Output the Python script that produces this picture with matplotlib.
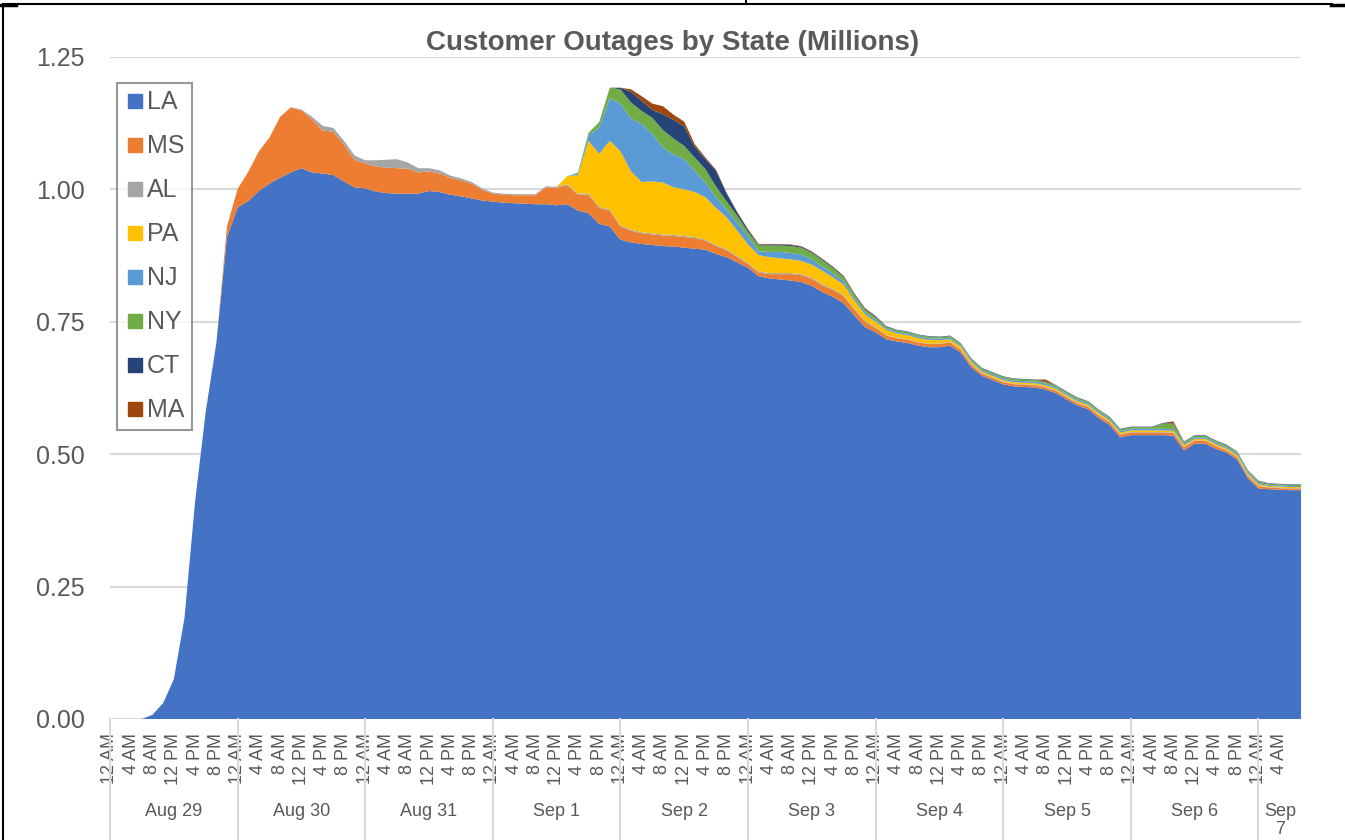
import numpy as np
import matplotlib.pyplot as plt
import matplotlib.transforms as mtransforms
from matplotlib.lines import Line2D

plt.rcParams['font.family'] = ['Liberation Sans', 'DejaVu Sans']

# hours since Aug 29 12 AM, one reading every 2 hours
hours = np.arange(0, 225, 2)

states = ['LA', 'MS', 'AL', 'PA', 'NJ', 'NY', 'CT', 'MA']
colors = ['#4472C4', '#ED7D31', '#A5A5A5', '#FFC000', '#5B9BD5', '#70AD47', '#264478', '#9E480E']

la = [0, 0, 0, 0, 0.008, 0.03, 0.075, 0.19, 0.41, 0.58, 0.71, 0.91, 0.966,
      0.978, 0.997, 1.011, 1.022, 1.032, 1.04, 1.032, 1.03, 1.027, 1.015, 1.004, 1.002,
      0.996, 0.993, 0.992, 0.992, 0.992, 0.997, 0.995, 0.99, 0.987, 0.983, 0.979, 0.977,
      0.975, 0.974, 0.973, 0.972, 0.972, 0.97, 0.972, 0.96, 0.955, 0.935, 0.93, 0.905,
      0.9, 0.897, 0.895, 0.893, 0.892, 0.89, 0.888, 0.886, 0.878, 0.872, 0.862, 0.852,
      0.836, 0.832, 0.83, 0.828, 0.825, 0.818, 0.806, 0.797, 0.785, 0.762, 0.74, 0.73,
      0.717, 0.713, 0.71, 0.705, 0.702, 0.702, 0.705, 0.692, 0.664, 0.648, 0.64, 0.632,
      0.628, 0.627, 0.626, 0.622, 0.615, 0.603, 0.592, 0.585, 0.568, 0.555, 0.532, 0.536,
      0.536, 0.536, 0.536, 0.535, 0.507, 0.52, 0.52, 0.51, 0.503, 0.49, 0.455, 0.435,
      0.434, 0.433, 0.432, 0.432]

ms = [0, 0, 0, 0, 0, 0, 0, 0, 0, 0, 0, 0.02, 0.035,
      0.055, 0.075, 0.087, 0.115, 0.123, 0.109, 0.1, 0.081, 0.082, 0.07, 0.051, 0.047,
      0.047, 0.048, 0.048, 0.047, 0.04, 0.037, 0.035, 0.032, 0.03, 0.028, 0.02, 0.015,
      0.015, 0.015, 0.016, 0.017, 0.032, 0.033, 0.036, 0.03, 0.035, 0.03, 0.03, 0.025,
      0.022, 0.02, 0.02, 0.02, 0.02, 0.02, 0.02, 0.017, 0.015, 0.013, 0.01, 0.007,
      0.007, 0.008, 0.01, 0.012, 0.013, 0.013, 0.013, 0.013, 0.013, 0.011, 0.01, 0.008,
      0.007, 0.006, 0.006, 0.006, 0.006, 0.006, 0.006, 0.005, 0.005, 0.004, 0.004, 0.004,
      0.004, 0.004, 0.004, 0.004, 0.004, 0.004, 0.004, 0.004, 0.005, 0.005, 0.005, 0.005,
      0.005, 0.005, 0.005, 0.005, 0.006, 0.005, 0.005, 0.005, 0.004, 0.004, 0.004, 0.004,
      0.003, 0.003, 0.003, 0.003]

al = [0, 0, 0, 0, 0, 0, 0, 0, 0, 0, 0, 0, 0,
      0, 0, 0, 0, 0, 0.002, 0.005, 0.009, 0.007, 0.007, 0.009, 0.006,
      0.012, 0.015, 0.017, 0.012, 0.008, 0.006, 0.006, 0.004, 0.004, 0.003, 0.003, 0.002,
      0.002, 0.002, 0.002, 0.002, 0.002, 0.002, 0.002, 0.002, 0.002, 0.002, 0.002, 0.002,
      0.002, 0.002, 0.002, 0.002, 0.002, 0.002, 0.002, 0.002, 0.002, 0.002, 0.002, 0.002,
      0.002, 0.002, 0.002, 0.002, 0.002, 0.002, 0.002, 0.002, 0.002, 0.002, 0.002, 0.002,
      0.001, 0.001, 0.001, 0.001, 0.001, 0.001, 0.001, 0.001, 0.001, 0.001, 0.001, 0.001,
      0.001, 0.001, 0.001, 0.001, 0.001, 0.001, 0.001, 0.001, 0.001, 0.001, 0.001, 0.001,
      0.001, 0.001, 0.001, 0.001, 0.001, 0.001, 0.001, 0.001, 0.001, 0.001, 0.001, 0.001,
      0.001, 0.001, 0.001, 0.001]

pa = [0, 0, 0, 0, 0, 0, 0, 0, 0, 0, 0, 0, 0,
      0, 0, 0, 0, 0, 0, 0, 0, 0, 0, 0, 0,
      0, 0, 0, 0, 0, 0, 0, 0, 0, 0, 0, 0,
      0, 0, 0, 0, 0, 0, 0.015, 0.035, 0.1, 0.1, 0.13, 0.14,
      0.11, 0.095, 0.098, 0.098, 0.09, 0.088, 0.085, 0.08, 0.07, 0.06, 0.048, 0.035,
      0.031, 0.03, 0.028, 0.026, 0.025, 0.025, 0.025, 0.022, 0.02, 0.015, 0.012, 0.01,
      0.01, 0.008, 0.008, 0.007, 0.007, 0.006, 0.005, 0.005, 0.004, 0.003, 0.003, 0.003,
      0.003, 0.003, 0.003, 0.003, 0.003, 0.003, 0.003, 0.003, 0.003, 0.003, 0.003, 0.003,
      0.003, 0.003, 0.003, 0.003, 0.003, 0.003, 0.003, 0.003, 0.003, 0.003, 0.003, 0.003,
      0.002, 0.002, 0.002, 0.002]

nj = [0, 0, 0, 0, 0, 0, 0, 0, 0, 0, 0, 0, 0,
      0, 0, 0, 0, 0, 0, 0, 0, 0, 0, 0, 0,
      0, 0, 0, 0, 0, 0, 0, 0, 0, 0, 0, 0,
      0, 0, 0, 0, 0, 0, 0, 0.003, 0.01, 0.05, 0.08, 0.09,
      0.1, 0.11, 0.09, 0.066, 0.062, 0.057, 0.04, 0.028, 0.02, 0.015, 0.015, 0.015,
      0.007, 0.01, 0.012, 0.012, 0.012, 0.01, 0.008, 0.007, 0.006, 0.005, 0.004, 0.004,
      0.003, 0.003, 0.003, 0.003, 0.003, 0.003, 0.003, 0.003, 0.003, 0.003, 0.003, 0.003,
      0.003, 0.003, 0.003, 0.003, 0.003, 0.003, 0.003, 0.003, 0.003, 0.003, 0.003, 0.003,
      0.003, 0.003, 0.003, 0.003, 0.003, 0.003, 0.003, 0.003, 0.003, 0.003, 0.003, 0.003,
      0.002, 0.002, 0.002, 0.002]

ny = [0, 0, 0, 0, 0, 0, 0, 0, 0, 0, 0, 0, 0,
      0, 0, 0, 0, 0, 0, 0, 0, 0, 0, 0, 0,
      0, 0, 0, 0, 0, 0, 0, 0, 0, 0, 0, 0,
      0, 0, 0, 0, 0, 0, 0, 0.002, 0.005, 0.01, 0.02, 0.027,
      0.03, 0.024, 0.03, 0.033, 0.03, 0.025, 0.025, 0.025, 0.02, 0.015, 0.013, 0.009,
      0.011, 0.012, 0.012, 0.013, 0.013, 0.012, 0.012, 0.01, 0.008, 0.006, 0.005, 0.004,
      0.003, 0.003, 0.003, 0.003, 0.003, 0.003, 0.003, 0.003, 0.003, 0.003, 0.003, 0.003,
      0.003, 0.003, 0.003, 0.003, 0.003, 0.003, 0.003, 0.003, 0.003, 0.003, 0.003, 0.003,
      0.003, 0.003, 0.01, 0.01, 0.003, 0.003, 0.003, 0.003, 0.003, 0.003, 0.003, 0.003,
      0.002, 0.002, 0.002, 0.002]

ct = [0, 0, 0, 0, 0, 0, 0, 0, 0, 0, 0, 0, 0,
      0, 0, 0, 0, 0, 0, 0, 0, 0, 0, 0, 0,
      0, 0, 0, 0, 0, 0, 0, 0, 0, 0, 0, 0,
      0, 0, 0, 0, 0, 0, 0, 0, 0, 0, 0, 0.003,
      0.02, 0.019, 0.015, 0.03, 0.035, 0.037, 0.02, 0.019, 0.03, 0.015, 0.006, 0.004,
      0.002, 0.002, 0.002, 0.002, 0.002, 0.002, 0.002, 0.002, 0.002, 0.002, 0.002, 0.002,
      0.001, 0.001, 0.001, 0.001, 0.001, 0.001, 0.001, 0.001, 0.001, 0.001, 0.001, 0.001,
      0.001, 0.001, 0.001, 0.001, 0.001, 0.001, 0.001, 0.001, 0.001, 0.001, 0.001, 0.001,
      0.001, 0.001, 0.001, 0.001, 0.001, 0.001, 0.001, 0.001, 0.001, 0.001, 0.001, 0.001,
      0.001, 0.001, 0.001, 0.001]

ma = [0, 0, 0, 0, 0, 0, 0, 0, 0, 0, 0, 0, 0,
      0, 0, 0, 0, 0, 0, 0, 0, 0, 0, 0, 0,
      0, 0, 0, 0, 0, 0, 0, 0, 0, 0, 0, 0,
      0, 0, 0, 0, 0, 0, 0, 0, 0, 0, 0, 0,
      0.005, 0.009, 0.012, 0.015, 0.01, 0.009, 0.005, 0.003, 0.002, 0.001, 0.001, 0.001,
      0.001, 0.001, 0.001, 0.001, 0.001, 0.001, 0.001, 0.001, 0.001, 0.001, 0.001, 0.001,
      0, 0, 0, 0, 0, 0, 0, 0, 0, 0, 0, 0,
      0, 0, 0, 0.004, 0, 0, 0, 0, 0, 0, 0, 0,
      0, 0, 0, 0.004, 0, 0, 0, 0, 0, 0, 0, 0,
      0, 0, 0, 0]

hour_labels = ['12 AM', '4 AM', '8 AM', '12 PM', '4 PM', '8 PM']
day_labels = ['Aug 29', 'Aug 30', 'Aug 31', 'Sep 1', 'Sep 2', 'Sep 3',
              'Sep 4', 'Sep 5', 'Sep 6', 'Sep\n7']

grey = '#595959'
grid_c = '#d9d9d9'

fig = plt.figure(figsize=(13.45, 8.4), dpi=100)
ax = fig.add_axes([110 / 1345, 1 - 719 / 840, 1191 / 1345, 662 / 840])

ax.stackplot(hours, la, ms, al, pa, nj, ny, ct, ma, colors=colors, labels=states,
             linewidth=0, zorder=2)

ax.set_xlim(0, 224)
ax.set_ylim(0, 1.25)
ax.set_yticks(np.arange(0, 1.26, 0.25))
ax.set_yticklabels([f'{v:.2f}' for v in np.arange(0, 1.26, 0.25)])
ax.tick_params(axis='y', length=0, pad=18, labelsize=18, labelcolor=grey)

xt = np.arange(0, 221, 4)
ax.set_xticks(xt)
ax.set_xticklabels([hour_labels[i % 6] for i in range(len(xt))], rotation=90)
ax.tick_params(axis='x', length=0, pad=10, labelsize=13, labelcolor=grey)
ax.set_xticks(np.arange(0, 217, 24), minor=True)
ax.tick_params(axis='x', which='minor', length=0)

ax.grid(True, which='minor', axis='x', color=grid_c, lw=1.5, zorder=0)
ax.grid(True, which='major', axis='y', color=grid_c, lw=1.5, zorder=0)
ax.grid(False, which='major', axis='x')
ax.set_axisbelow(True)
for s in ax.spines.values():
    s.set_visible(False)

# day groups under the hour labels
trans = mtransforms.blended_transform_factory(ax.transData, ax.transAxes)
for d in np.arange(0, 217, 24):
    ax.plot([d, d], [0, -0.2], transform=trans, color=grid_c, lw=1.5, clip_on=False)
for i, lab in enumerate(day_labels):
    xc = 12 + 24 * i if i < 9 else 220
    ax.text(xc, -0.127, lab, transform=trans, ha='center', va='top', fontsize=13,
            color=grey, linespacing=1.1)

fig.text(673 / 1345, 1 - 43 / 840, 'Customer Outages by State (Millions)', ha='center',
         va='center', fontsize=20, fontweight='bold', color=grey)

handles = [Line2D([], [], marker='s', linestyle='', color=c, markersize=10) for c in colors]
leg = ax.legend(handles, states, loc='upper left', bbox_to_anchor=(0.006, 0.961),
                frameon=True, fancybox=False, edgecolor='#7f7f7f', fontsize=18,
                handlelength=0.8, handletextpad=0.1, labelspacing=0.8, borderpad=0.3,
                borderaxespad=0)
leg.get_frame().set_linewidth(1.5)
for t in leg.get_texts():
    t.set_color(grey)

# border of the surrounding table cell
fig.add_artist(Line2D([3 / 1345, 1332 / 1345], [1 - 4 / 840] * 2, color='black', lw=1.5,
                      transform=fig.transFigure))
fig.add_artist(Line2D([3 / 1345] * 2, [0, 1 - 4 / 840], color='black', lw=1.5,
                      transform=fig.transFigure))
fig.add_artist(Line2D([746 / 1345] * 2, [1 - 4 / 840, 1], color='black', lw=1.5,
                      transform=fig.transFigure))
fig.add_artist(Line2D([0, 16 / 1345], [1 - 5 / 840] * 2, color='black', lw=2.5,
                      transform=fig.transFigure))
fig.add_artist(Line2D([1331 / 1345, 1], [1 - 5 / 840] * 2, color='black', lw=2.5,
                      transform=fig.transFigure))

fig.savefig('out.png', dpi=100)
